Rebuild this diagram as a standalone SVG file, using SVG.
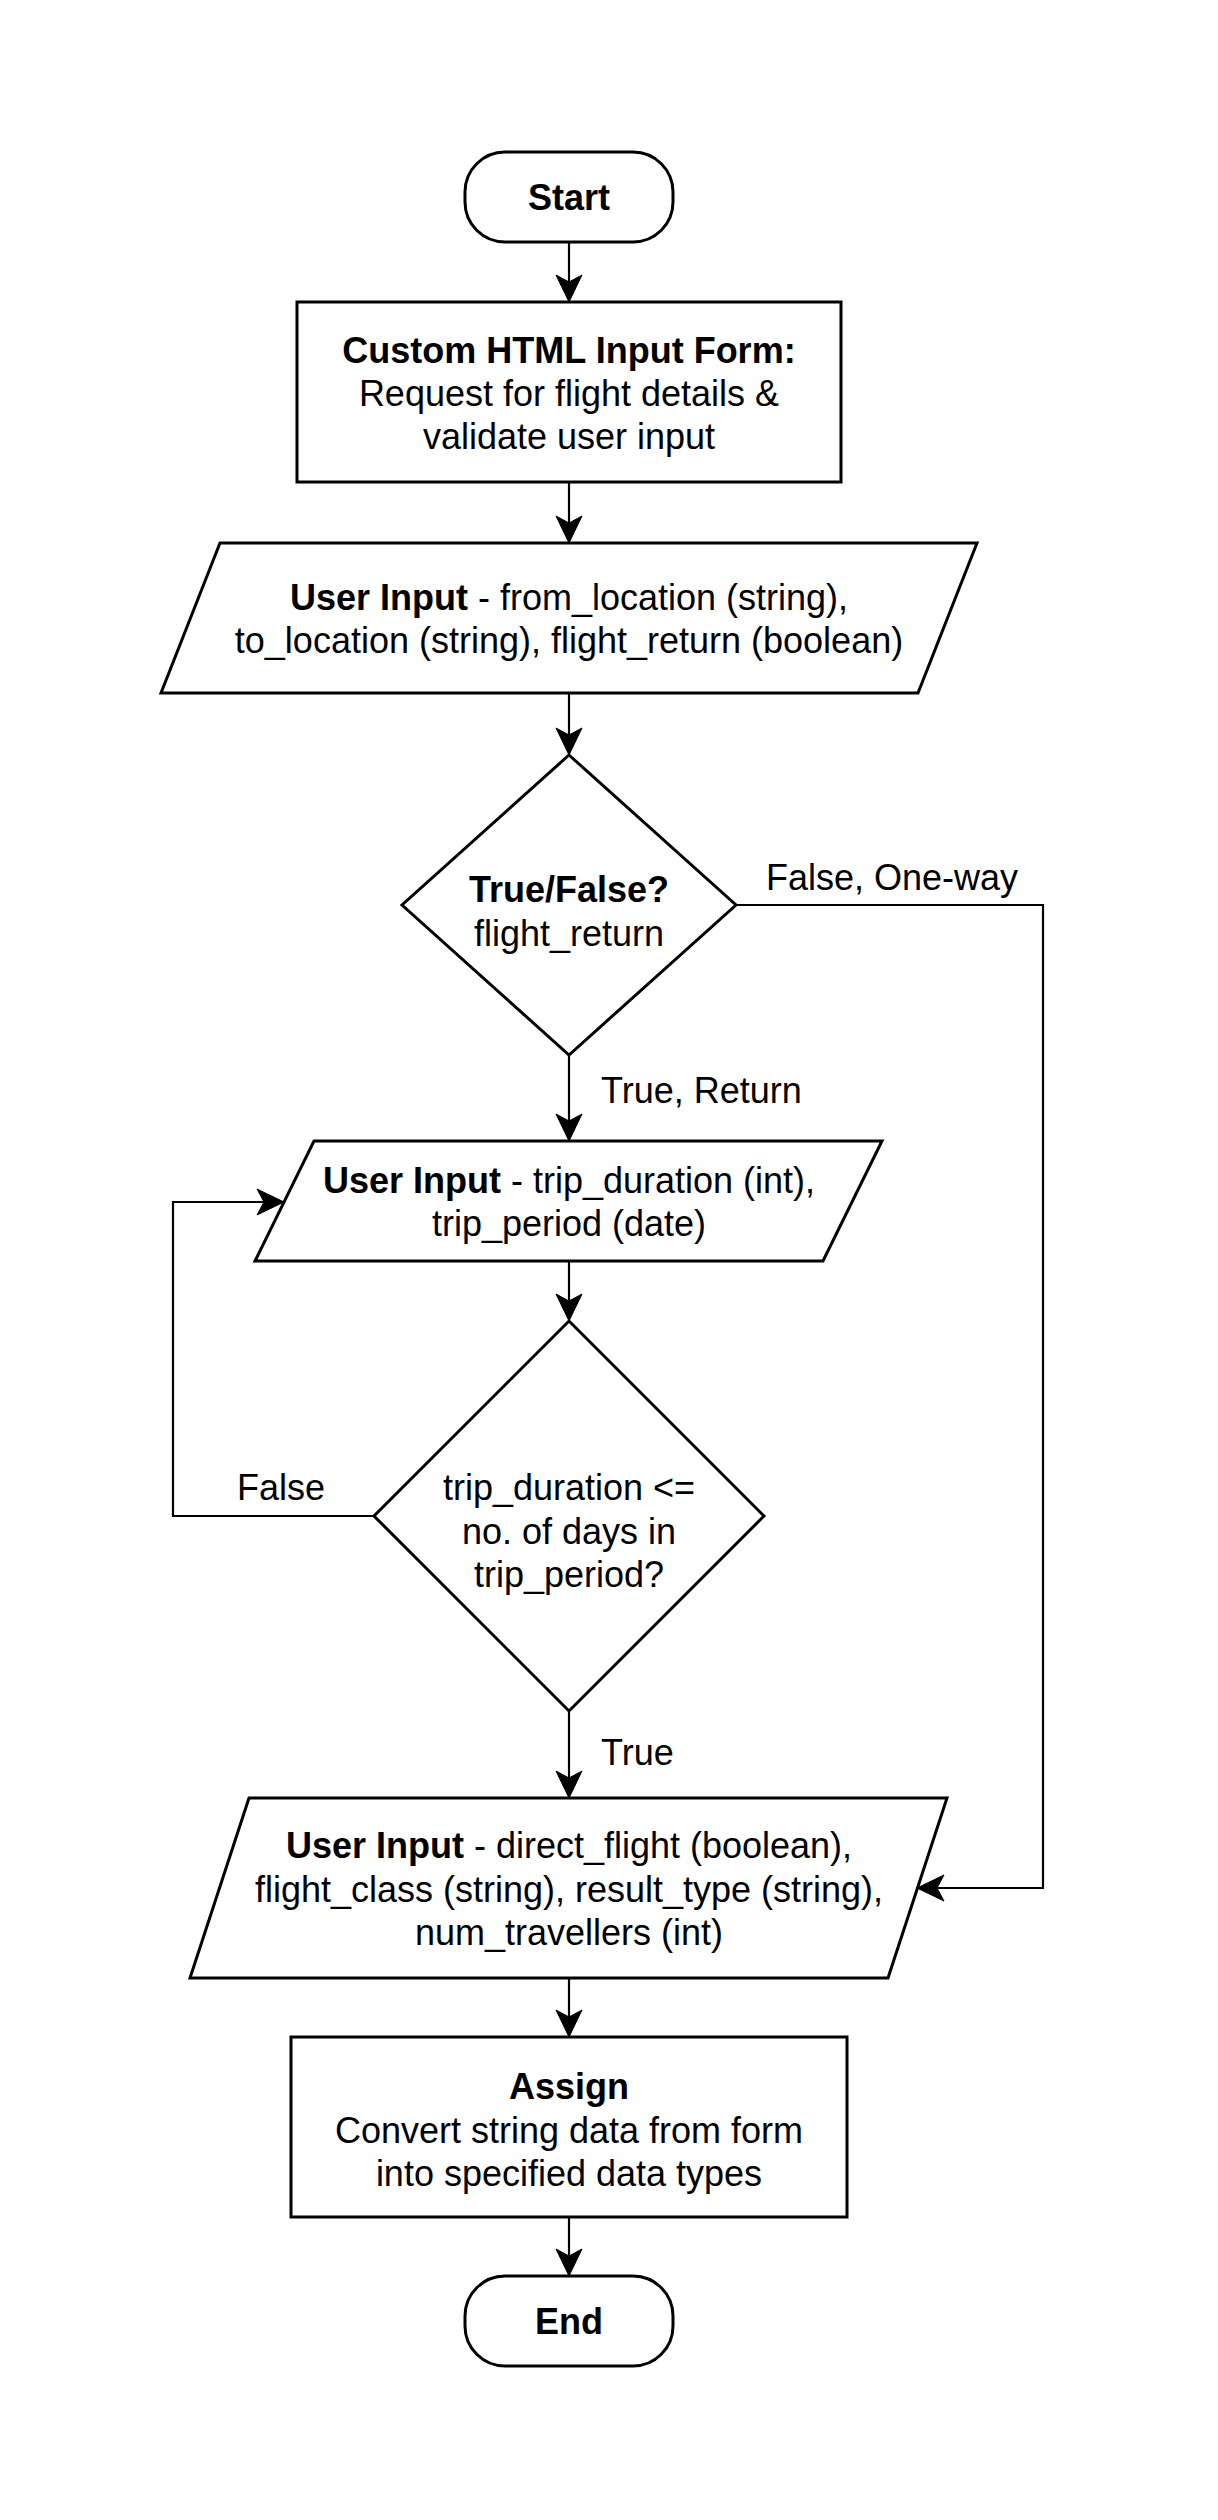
<svg xmlns="http://www.w3.org/2000/svg" width="1218" height="2520" viewBox="0 0 1218 2520">
<defs>
<style>
.shape{fill:#ffffff;stroke:#000000;stroke-width:3}
.edge{fill:none;stroke:#000000;stroke-width:2.2}
text{font-family:"Liberation Sans",Arial,sans-serif;font-size:36px;fill:#000000}
.c{text-anchor:middle}
.b{font-weight:bold}
</style>
<marker id="arr" markerUnits="userSpaceOnUse" markerWidth="32" markerHeight="30" viewBox="-30 -15 32 30" refX="-10" refY="0" orient="auto">
<path d="M0,0 L-27,-13 L-20,0 L-27,13 Z" fill="#000000" stroke="#000000" stroke-width="1"/>
</marker>
</defs>
<rect x="0" y="0" width="1218" height="2520" fill="#ffffff"/>
<g id="connectors">
<path class="edge" d="M569,242 L569,292" marker-end="url(#arr)"/>
<path class="edge" d="M569,482 L569,533" marker-end="url(#arr)"/>
<path class="edge" d="M569,693 L569,745" marker-end="url(#arr)"/>
<path class="edge" d="M569,1055 L569,1131" marker-end="url(#arr)"/>
<text x="601" y="1103">True, Return</text>
<path class="edge" d="M736,905 L1043,905 L1043,1888 L927,1888" marker-end="url(#arr)"/>
<text x="766" y="890">False, One-way</text>
<path class="edge" d="M569,1261 L569,1311" marker-end="url(#arr)"/>
<path class="edge" d="M374,1516 L173,1516 L173,1202 L274,1202" marker-end="url(#arr)"/>
<text x="237" y="1500">False</text>
<path class="edge" d="M569,1711 L569,1788" marker-end="url(#arr)"/>
<text x="601" y="1765">True</text>
<path class="edge" d="M569,1978 L569,2027" marker-end="url(#arr)"/>
<path class="edge" d="M569,2217 L569,2266" marker-end="url(#arr)"/>
</g>
<g id="start">
<rect class="shape" x="465" y="152" width="208" height="90" rx="40" ry="40"/>
<text class="c b" x="569" y="209.5">Start</text>
</g>
<g id="html-form">
<rect class="shape" x="297" y="302" width="544" height="180"/>
<text class="c b" x="569" y="363">Custom HTML Input Form:</text>
<text class="c" x="569" y="406.2">Request for flight details &amp;</text>
<text class="c" x="569" y="449.4">validate user input</text>
</g>
<g id="input-locations">
<polygon class="shape" points="220,543 977,543 918,693 161,693"/>
<text class="c" x="569" y="610"><tspan class="b">User Input</tspan> - from_location (string),</text>
<text class="c" x="569" y="653">to_location (string), flight_return (boolean)</text>
</g>
<g id="decision-return">
<polygon class="shape" points="569,755 736,905 569,1055 402,905"/>
<text class="c b" x="569" y="901.5">True/False?</text>
<text class="c" x="569" y="945.5">flight_return</text>
</g>
<g id="input-trip">
<polygon class="shape" points="314,1141 882,1141 823,1261 255,1261"/>
<text class="c" x="569" y="1192.7"><tspan class="b">User Input</tspan> - trip_duration (int),</text>
<text class="c" x="569" y="1235.9">trip_period (date)</text>
</g>
<g id="decision-duration">
<polygon class="shape" points="569,1321 764,1516 569,1711 374,1516"/>
<text class="c" x="569" y="1500.3">trip_duration &lt;=</text>
<text class="c" x="569" y="1543.5">no. of days in</text>
<text class="c" x="569" y="1586.7">trip_period?</text>
</g>
<g id="input-flight">
<polygon class="shape" points="249,1798 947,1798 888,1978 190,1978"/>
<text class="c" x="569" y="1858.3"><tspan class="b">User Input</tspan> - direct_flight (boolean),</text>
<text class="c" x="569" y="1901.5">flight_class (string), result_type (string),</text>
<text class="c" x="569" y="1944.7">num_travellers (int)</text>
</g>
<g id="assign">
<rect class="shape" x="291" y="2037" width="556" height="180"/>
<text class="c b" x="569" y="2099.3">Assign</text>
<text class="c" x="569" y="2142.5">Convert string data from form</text>
<text class="c" x="569" y="2185.7">into specified data types</text>
</g>
<g id="end">
<rect class="shape" x="465" y="2276" width="208" height="90" rx="40" ry="40"/>
<text class="c b" x="569" y="2333.5">End</text>
</g>
</svg>
